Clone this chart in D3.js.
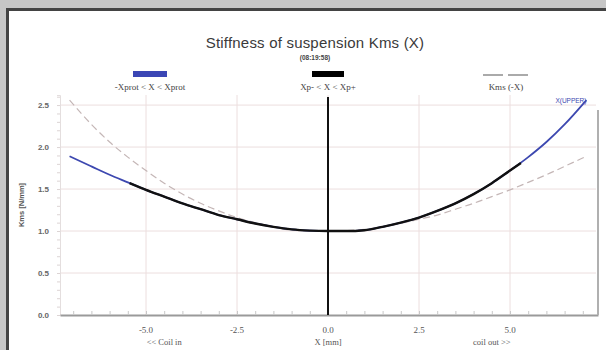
<!DOCTYPE html>
<html><head><meta charset="utf-8">
<script src="https://cdn.jsdelivr.net/npm/d3@7"></script>
<style>
html,body{margin:0;padding:0;background:#c6c6c6;}
svg{display:block;}
</style></head>
<body>
<svg id="chart" width="606" height="350" font-family="Liberation Sans, Arial, sans-serif"></svg>
<script>
// ---- data ----
const xValues = [-7.1,-6.5,-6,-5.5,-5,-4.5,-4,-3.5,-3,-2.5,-2,-1.5,-1,-0.5,0,0.5,1,1.5,2,2.5,3,3.5,4,4.5,5,5.5,6,6.5,7.1];
const kmsValues = [1.89,1.77,1.67,1.58,1.49,1.41,1.33,1.26,1.19,1.14,1.09,1.05,1.02,1.005,1.0,1.0,1.01,1.05,1.10,1.16,1.24,1.33,1.44,1.57,1.72,1.88,2.06,2.27,2.56];
const kmsMirrorValues = [2.56,2.27,2.06,1.88,1.72,1.57,1.44,1.33,1.24,1.16,1.10,1.05,1.01,1.0,1.0,1.005,1.02,1.05,1.09,1.14,1.19,1.26,1.33,1.41,1.49,1.58,1.67,1.77,1.89];
const xpX = [-5.45,-5,-4.5,-4,-3.5,-3,-2.5,-2,-1.5,-1,-0.5,0,0.5,1,1.5,2,2.5,3,3.5,4,4.5,5,5.3];
const xpKms = [1.57,1.49,1.41,1.33,1.26,1.19,1.14,1.09,1.05,1.02,1.005,1.0,1.0,1.01,1.05,1.10,1.16,1.24,1.33,1.44,1.57,1.72,1.81];
const xTicks = [-5,-2.5,0,2.5,5];
const yTicks = [0,0.5,1,1.5,2,2.5];
const legendLabels = ["-Xprot < X < Xprot","Xp- < X < Xp+","Kms (-X)"];
const titleText = "Stiffness of suspension Kms (X)";
const subtitleText = "(08:19:58)";

const svg = d3.select("#chart");

// panel
svg.append("rect").attr("x",7.5).attr("y",9.5).attr("width",620).attr("height",360)
  .attr("fill","#fff").attr("stroke","#434343").attr("stroke-width",3);

const x = d3.scaleLinear().domain([-268/36.4, 270/36.4]).range([60,598]);
const y = d3.scaleLinear().domain([0,2.62]).range([315,95]);

// grid
const g = svg.append("g");
g.selectAll(".vg").data(xTicks).join("line")
  .attr("x1",d=>x(d)).attr("x2",d=>x(d)).attr("y1",95).attr("y2",315)
  .attr("stroke","#ecdede").attr("stroke-width",1);
g.selectAll(".hg").data(yTicks.filter(d=>d>0)).join("line")
  .attr("x1",60).attr("x2",596).attr("y1",d=>y(d)).attr("y2",d=>y(d))
  .attr("stroke","#ecdede").attr("stroke-width",1);

// y axis
const yAxis = svg.append("g").attr("transform","translate(60,0)")
  .call(d3.axisLeft(y).tickValues(d3.range(0,2.61,0.1)).tickSize(3).tickFormat(""));
yAxis.select(".domain").attr("stroke","#e4dede");
yAxis.selectAll(".tick line").attr("stroke","#dcd4d4");
svg.append("g").selectAll("text").data(yTicks).join("text")
  .attr("x",49).attr("y",d=>y(d)+3).attr("text-anchor","end")
  .attr("font-size",8).attr("font-weight","bold").attr("fill","#666")
  .text(d=>d.toFixed(1));

// x axis
const xAxis = svg.append("g").attr("transform","translate(0,315)")
  .call(d3.axisTop(x).tickValues(d3.range(-7,7.01,0.5)).tickSize(4).tickFormat("").tickSizeOuter(0));
xAxis.select(".domain").attr("stroke","#9a9a9a").attr("stroke-width",2);
xAxis.selectAll(".tick line").attr("stroke","#c8c8c8");
svg.append("g").selectAll("text").data(xTicks).join("text")
  .attr("x",d=>x(d)).attr("y",333).attr("text-anchor","middle")
  .attr("font-size",9).attr("fill","#555")
  .attr("font-family","Liberation Serif, serif")
  .text(d=>d.toFixed(1));
[["<< Coil in",-4.5],["X [mm]",0],["coil out >>",4.5]].forEach(([t,v])=>{
  svg.append("text").attr("x",x(v)).attr("y",345).attr("text-anchor","middle")
    .attr("font-size",8.5).attr("fill","#555").attr("font-family","Liberation Serif, serif").text(t);
});
svg.append("text").attr("transform","translate(24,205) rotate(-90)")
  .attr("text-anchor","middle").attr("font-size",7.5).attr("font-weight","bold").attr("fill","#555")
  .text("Kms [N/mm]");

// right edge bar
svg.append("line").attr("x1",598).attr("x2",598).attr("y1",110).attr("y2",315)
  .attr("stroke","#b0b0b0").attr("stroke-width",2);

// lines
const line = d3.line().x(d=>x(d[0])).y(d=>y(d[1])).curve(d3.curveMonotoneX);
svg.append("path").datum(xValues.map((v,i)=>[v,kmsMirrorValues[i]]))
  .attr("d",line).attr("fill","none").attr("stroke","#c4b6b6").attr("stroke-width",1.2).attr("stroke-dasharray","7,4");
svg.append("path").datum(xValues.map((v,i)=>[v,kmsValues[i]]))
  .attr("d",line).attr("fill","none").attr("stroke","#3d48b0").attr("stroke-width",1.8);
svg.append("path").datum(xpX.map((v,i)=>[v,xpKms[i]]))
  .attr("d",line).attr("fill","none").attr("stroke","#111").attr("stroke-width",2.4);

// zero line
svg.append("line").attr("x1",x(0)).attr("x2",x(0)).attr("y1",97).attr("y2",315)
  .attr("stroke","#111").attr("stroke-width",2);

svg.append("text").attr("x",x(7.1)).attr("y",103).attr("text-anchor","end")
  .attr("font-size",6.5).attr("fill","#3d48b0").text("X(UPPER)");

// title
svg.append("text").attr("x",315).attr("y",48).attr("text-anchor","middle")
  .attr("font-size",15).attr("fill","#3a3a3a").attr("letter-spacing",0.2).text(titleText);
svg.append("text").attr("x",315).attr("y",60).attr("text-anchor","middle")
  .attr("font-size",6.5).attr("font-weight","bold").attr("fill","#444").text(subtitleText);

// legend
const legendX = [150,328,506];
const lg = svg.append("g");
lg.append("rect").attr("x",legendX[0]-17).attr("y",71).attr("width",34).attr("height",6).attr("fill","#3b46b5");
lg.append("rect").attr("x",legendX[1]-16).attr("y",71).attr("width",32).attr("height",6).attr("fill","#000");
lg.append("line").attr("x1",legendX[2]-23).attr("x2",legendX[2]+22).attr("y1",75).attr("y2",75)
  .attr("stroke","#aaa").attr("stroke-width",2).attr("stroke-dasharray","20,5");
lg.selectAll("text").data(legendLabels).join("text")
  .attr("x",(d,i)=>legendX[i]).attr("y",90).attr("text-anchor","middle")
  .attr("font-size",9).attr("fill","#444").attr("font-family","Liberation Serif, serif").text(d=>d);
</script>
</body></html>
